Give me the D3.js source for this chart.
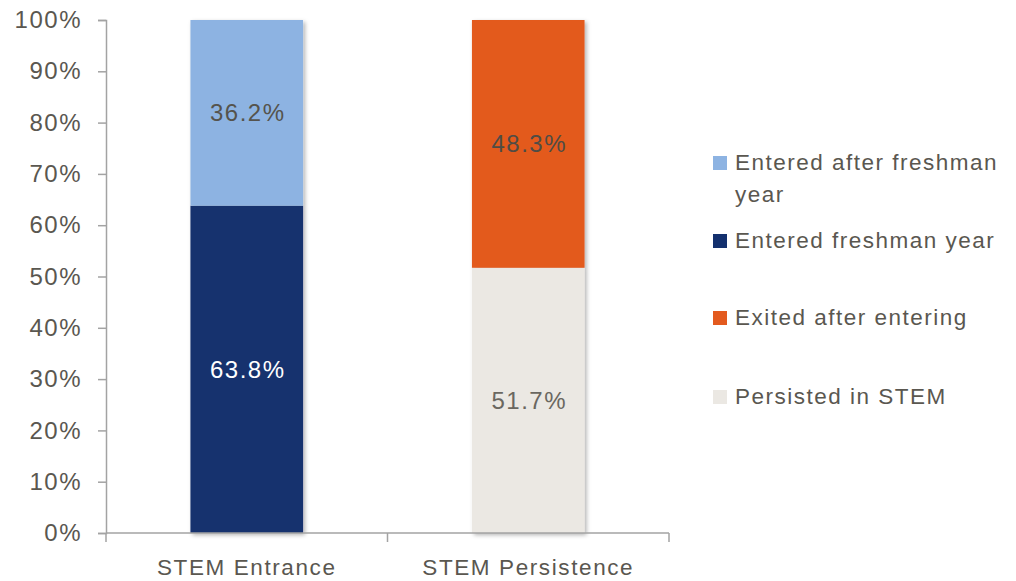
<!DOCTYPE html>
<html>
<head>
<meta charset="utf-8">
<script src="https://cdn.jsdelivr.net/npm/d3@7"></script>
<style>
  body { margin: 0; background: #fff; }
  text { font-family: "Liberation Sans", Arial, sans-serif; }
</style>
</head>
<body>
<div id="chart"></div>
<script>
// datos del grafico
var categorias = ["STEM Entrance", "STEM Persistence"];
var series = ["Entered freshman year", "Entered after freshman year", "Persisted in STEM", "Exited after entering"];
var valoresEntrance = [63.8, 36.2, 0, 0];
var valoresPersistence = [0, 0, 51.7, 48.3];
var colores = ["#13306e", "#8db3e2", "#ebe8e3", "#e35a1e"];
var coloresEtiqueta = ["#ffffff", "#55534d", "#6a6760", "#4f4c45"];
var ordenLeyenda = ["Entered after freshman year", "Entered freshman year", "Exited after entering", "Persisted in STEM"];
var ticksY = [0, 10, 20, 30, 40, 50, 60, 70, 80, 90, 100];

var width = 1016,
    height = 581,
    margin = {top: 20, right: 347, bottom: 48, left: 106};

var gris = "#5a5750";

// armamos la tabla para el stack
var tabla = categorias.map(function (c, i) {
  var fila = {cat: c};
  var vals = i === 0 ? valoresEntrance : valoresPersistence;
  series.forEach(function (s, j) { fila[s] = vals[j]; });
  return fila;
});

var stack = d3.stack().keys(series);
var capas = stack(tabla);

var xScale = d3.scaleBand()
    .domain(categorias)
    .range([margin.left, width - margin.right])
    .paddingInner(0.6)
    .paddingOuter(0.3);

var yScale = d3.scaleLinear()
    .domain([0, 100])
    .range([height - margin.bottom, margin.top]);

var color = d3.scaleOrdinal().domain(series).range(colores);
var colorEtiqueta = d3.scaleOrdinal().domain(series).range(coloresEtiqueta);

var svg = d3.select("#chart")
    .append("svg")
    .attr("width", width)
    .attr("height", height);

// sombra de las barras
var filtro = svg.append("defs").append("filter")
    .attr("id", "sombra")
    .attr("x", "-10%").attr("y", "-10%")
    .attr("width", "130%").attr("height", "130%");
filtro.append("feDropShadow")
    .attr("dx", 2).attr("dy", 2)
    .attr("stdDeviation", 2)
    .attr("flood-color", "#000")
    .attr("flood-opacity", 0.3);

// barras
var gBarras = svg.append("g").attr("filter", "url(#sombra)");
capas.forEach(function (capa) {
  gBarras.selectAll(null)
    .data(capa.filter(function (d) { return d[1] - d[0] > 0; }))
    .enter().append("rect")
    .attr("x", function (d) { return xScale(d.data.cat); })
    .attr("width", xScale.bandwidth())
    .attr("y", function (d) { return yScale(d[1]); })
    .attr("height", function (d) { return yScale(d[0]) - yScale(d[1]); })
    .attr("fill", color(capa.key));
});

// etiquetas de valores
capas.forEach(function (capa) {
  svg.selectAll(null)
    .data(capa.filter(function (d) { return d[1] - d[0] > 0; }))
    .enter().append("text")
    .attr("x", function (d) { return xScale(d.data.cat) + xScale.bandwidth() / 2 + 1; })
    .attr("y", function (d) { return (yScale(d[0]) + yScale(d[1])) / 2; })
    .attr("dy", "0.35em")
    .attr("text-anchor", "middle")
    .style("font-size", "24px")
    .style("letter-spacing", "1.5px")
    .attr("fill", colorEtiqueta(capa.key))
    .text(function (d) { return (d[1] - d[0]).toFixed(1) + "%"; });
});

// eje y
var ejeY = svg.append("g")
    .attr("transform", "translate(" + margin.left + ",0)")
    .call(d3.axisLeft(yScale).tickValues(ticksY).tickSize(8).tickPadding(16)
      .tickFormat(function (d) { return d + "%"; }));
ejeY.select(".domain").attr("stroke", "#a3a3a3").attr("stroke-width", 1.5);
ejeY.selectAll(".tick line").attr("stroke", "#a3a3a3").attr("stroke-width", 1.5);
ejeY.selectAll(".tick text")
    .attr("fill", gris)
    .style("font-size", "24px")
    .style("letter-spacing", "1.5px")
    .style("font-family", "'Liberation Sans', Arial, sans-serif");

// eje x
var ejeX = svg.append("g")
    .attr("transform", "translate(0," + (height - margin.bottom) + ")");
ejeX.append("line")
    .attr("x1", margin.left).attr("x2", width - margin.right)
    .attr("stroke", "#a3a3a3").attr("stroke-width", 1.5);
var bordes = [margin.left].concat(categorias.map(function (c) {
  return xScale(c) + xScale.bandwidth() / 2 + xScale.step() / 2;
}));
ejeX.selectAll(null)
    .data(bordes)
    .enter().append("line")
    .attr("x1", function (d) { return d; })
    .attr("x2", function (d) { return d; })
    .attr("y1", 0).attr("y2", 9)
    .attr("stroke", "#a3a3a3").attr("stroke-width", 1.5);
ejeX.selectAll(null)
    .data(categorias)
    .enter().append("text")
    .attr("x", function (d) { return xScale(d) + xScale.bandwidth() / 2; })
    .attr("y", 42)
    .attr("text-anchor", "middle")
    .attr("fill", gris)
    .style("font-size", "22.5px")
    .style("letter-spacing", "1.6px")
    .text(function (d) { return d; });

// leyenda
var leyendaY = [156, 234, 311, 390];
var leyenda = svg.append("g");
ordenLeyenda.forEach(function (s, i) {
  var g = leyenda.append("g").attr("transform", "translate(713," + leyendaY[i] + ")");
  g.append("rect")
    .attr("width", 14).attr("height", 14)
    .attr("fill", color(s));
  var lineas = s === "Entered after freshman year" ? ["Entered after freshman", "year"] : [s];
  var t = g.append("text")
    .attr("x", 22)
    .attr("y", 14)
    .attr("fill", gris)
    .style("font-size", "22.5px")
    .style("letter-spacing", "1.5px");
  lineas.forEach(function (l, k) {
    t.append("tspan").attr("x", 22).attr("dy", k === 0 ? 0 : 32).text(l);
  });
});
</script>
</body>
</html>
